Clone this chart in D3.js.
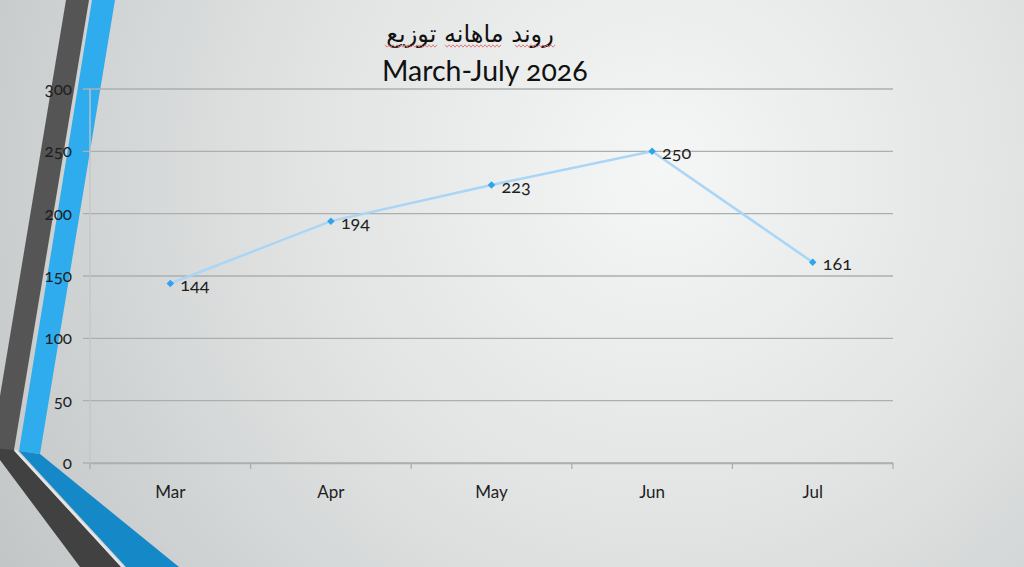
<!DOCTYPE html>
<html>
<head>
<meta charset="utf-8">
<script src="https://cdn.jsdelivr.net/npm/d3@7"></script>
<style>
  html, body { margin: 0; padding: 0; overflow: hidden; }
  svg { display: block; }
  text { font-family: Lato, "Open Sans", sans-serif; font-variant-numeric: oldstyle-nums; }
</style>
</head>
<body>
<svg id="chart" width="1024" height="567"></svg>
<script>
// chart data
const months = ['Mar', 'Apr', 'May', 'Jun', 'Jul'];
const values = [144, 194, 223, 250, 161];
const yTicks = [0, 50, 100, 150, 200, 250, 300];
const titleFa = 'روند ماهانه توزیع';
const titleEn = 'March-July 2026';

const svg = d3.select('#chart');
const W = 1024, H = 567;
const margin = { left: 90, right: 131, top: 89, bottom: 104 };

// background
const defs = svg.append('defs');
const bg = defs.append('radialGradient')
  .attr('id', 'bg')
  .attr('gradientUnits', 'userSpaceOnUse')
  .attr('cx', 660).attr('cy', 170).attr('r', 820);
bg.append('stop').attr('offset', '0%').attr('stop-color', '#f5f6f6');
bg.append('stop').attr('offset', '45%').attr('stop-color', '#e1e3e3');
bg.append('stop').attr('offset', '100%').attr('stop-color', '#bec2c2');

svg.append('rect').attr('width', W).attr('height', H).style('fill', 'url(#bg)');

// left decoration bands
const deco = svg.append('g');
deco.append('path')
  .attr('d', 'M66,0 L89,0 L14,450 L-9,450 Z')
  .style('fill', '#555555');
deco.append('path')
  .attr('d', 'M-9,448 L14,450 L121,567 L80,567 Z')
  .style('fill', '#414141');
deco.append('path')
  .attr('d', 'M92,0 L115,0 L40,454 L19,451 Z')
  .style('fill', '#2eaced');
deco.append('path')
  .attr('d', 'M19,451 L40,454 L179,567 L126,567 Z')
  .style('fill', '#1588c7');
deco.append('path')
  .attr('d', 'M15,450 L123,567')
  .style('stroke', '#e4e6e6').style('stroke-width', 2.5).style('fill', 'none');

// scales
const x = d3.scaleBand()
  .domain(months)
  .range([margin.left, W - margin.right]);
const y = d3.scaleLinear()
  .domain([0, 300])
  .range([H - margin.bottom, margin.top]);

// gridlines
svg.append('g')
  .selectAll('line')
  .data(yTicks)
  .join('line')
  .attr('x1', margin.left - 7)
  .attr('x2', W - margin.right)
  .attr('y1', d => y(d))
  .attr('y2', d => y(d))
  .style('stroke', '#adafaf')
  .style('stroke-width', 1.3);

// y axis
const yAxis = svg.append('g')
  .attr('transform', `translate(${margin.left},0)`)
  .call(d3.axisLeft(y).tickValues(yTicks).tickSize(0).tickPadding(18));
yAxis.select('.domain').style('stroke', '#c4c6c6').style('stroke-width', 1.3)
  .attr('d', `M0,${y(300)}V${y(0) + 6}`);
yAxis.selectAll('text')
  .style('font-size', '17px')
  .style('fill', '#1e1e1e');

// x axis
const xAxis = svg.append('g')
  .attr('transform', `translate(0,${y(0)})`)
  .call(d3.axisBottom(x).tickSize(0).tickPadding(23));
xAxis.select('.domain').style('stroke', '#adafaf').style('stroke-width', 1.3);
xAxis.selectAll('text')
  .style('font-size', '17px')
  .style('fill', '#1e1e1e');
const bounds = months.map(m => x(m)).concat([x(months[months.length - 1]) + x.bandwidth()]);
xAxis.append('g')
  .selectAll('line')
  .data(bounds)
  .join('line')
  .attr('x1', d => d).attr('x2', d => d)
  .attr('y1', 0).attr('y2', 6)
  .style('stroke', '#adafaf')
  .style('stroke-width', 1.3);

// line series
const cx = (d, i) => x(months[i]) + x.bandwidth() / 2;
svg.append('path')
  .datum(values)
  .attr('d', d3.line().x(cx).y(d => y(d)))
  .style('fill', 'none')
  .style('stroke', '#a9d5f7')
  .style('stroke-width', 2.5);

svg.append('g')
  .selectAll('path')
  .data(values)
  .join('path')
  .attr('d', d3.symbol(d3.symbolSquare, 28))
  .attr('transform', (d, i) => `translate(${cx(d, i)},${y(d)}) rotate(45)`)
  .style('fill', '#2ea3ee');

svg.append('g')
  .selectAll('text')
  .data(values)
  .join('text')
  .attr('x', (d, i) => cx(d, i) + 10)
  .attr('y', d => y(d) + 8)
  .style('font-size', '18px')
  .style('fill', '#1e1e1e')
  .text(d => d);

// title
const title = svg.append('g');
title.append('text')
  .attr('x', 470)
  .attr('y', 42)
  .attr('text-anchor', 'middle')
  .style('font-family', '"DejaVu Sans", sans-serif')
  .style('font-size', '24px')
  .style('fill', '#111')
  .text(titleFa);
title.append('text')
  .attr('x', 382)
  .attr('y', 81)
  .style('font-family', 'Lato, "Open Sans", sans-serif')
  .style('font-size', '28.5px')
  .style('fill', '#111')
  .text(titleEn);

// spell-check squiggles under the Persian words
const squiggles = [[385, 438], [445, 503], [515, 557]];
const wave = (a, b) => {
  const pts = d3.range(a, b, 2).map((px, k) => [px, 46 + (k % 2 ? 1.2 : -1.2)]);
  return d3.line()(pts);
};
title.append('g')
  .selectAll('path')
  .data(squiggles)
  .join('path')
  .attr('d', d => wave(d[0], d[1]))
  .style('fill', 'none')
  .style('stroke', '#e07070')
  .style('stroke-width', 0.9);
</script>
</body>
</html>
